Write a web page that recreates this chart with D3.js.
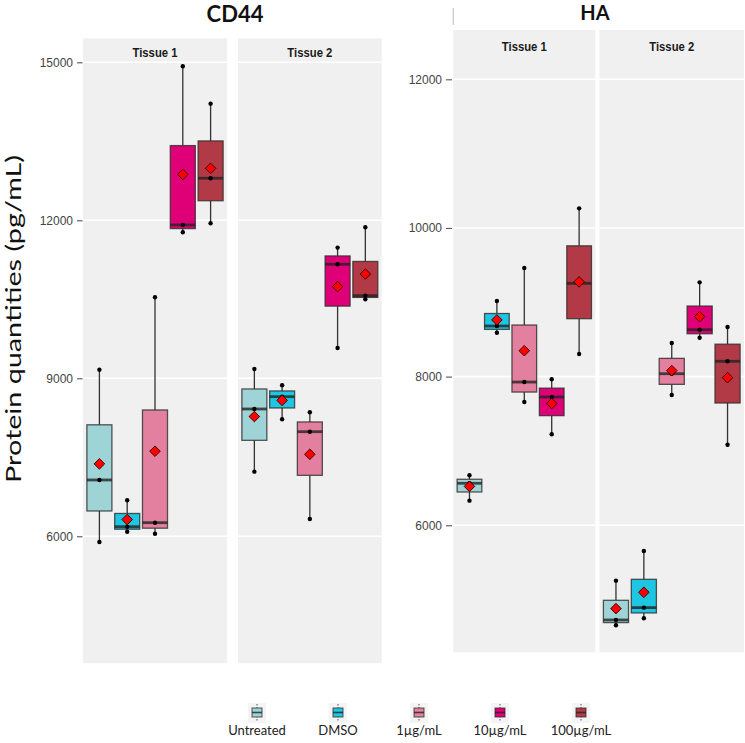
<!DOCTYPE html>
<html><head><meta charset="utf-8">
<script src="https://cdn.jsdelivr.net/npm/d3@7"></script>
<style>body{margin:0;background:#fff}</style>
</head><body><svg id="c" width="745" height="743"></svg>
<script>
// ---- data (three replicate values per group) ----
const groups = ["Untreated", "DMSO", "1µg/mL", "10µg/mL", "100µg/mL"];
const tissues = ["Tissue 1", "Tissue 2"];
const cd44Tissue1 = [[9164, 7069, 5892], [6684, 6182, 6087], [10539, 6258, 6049], [14925, 11912, 11773], [14215, 12799, 11944]];
const cd44Tissue2 = [[9177, 8417, 7227], [8868, 8651, 8222], [8355, 7986, 6329], [11481, 11165, 9576], [11868, 10569, 10501]];
const haTissue1 = [[6673, 6565, 6331], [9017, 8681, 8590], [9461, 7927, 7658], [7964, 7726, 7224], [10264, 9255, 8304]];
const haTissue2 = [[5255, 4726, 4655], [5654, 4892, 4749], [8452, 8039, 7753], [9268, 8631, 8523], [8667, 8206, 7084]];
const cd44Ticks = [6000, 9000, 12000, 15000];
const haTicks = [6000, 8000, 10000, 12000];
const groupColors = ["#9fd4d7", "#1fc6e2", "#e3809f", "#df0078", "#b23a46"];

const svg = d3.select("#c");
const PANEL_BG = "#f0f0f0";

function stats(vals) {
  const s = vals.slice().sort(d3.ascending);
  return { min: s[0], q1: d3.quantile(s, 0.25), med: d3.quantile(s, 0.5),
           q3: d3.quantile(s, 0.75), max: s[s.length - 1], mean: d3.mean(s), pts: s };
}

function drawChart(cfg) {
  const g = svg.append("g");
  const y = d3.scaleLinear().domain(cfg.domain).range([cfg.bottom, cfg.top]);

  // title
  g.append("text").attr("x", cfg.titleX).attr("y", cfg.titleY)
    .attr("text-anchor", "middle").attr("font-family", "Lato, 'Open Sans', sans-serif")
    .attr("font-weight", "bold").attr("font-size", cfg.titleSize).attr("fill", "#111")
    .text(cfg.title);

  cfg.panels.forEach((p, i) => {
    // strip + panel background
    g.append("rect").attr("x", p.x0).attr("y", cfg.stripTop)
      .attr("width", p.x1 - p.x0).attr("height", cfg.bottom - cfg.stripTop).attr("fill", PANEL_BG);
    // gridlines
    g.selectAll(null).data(cfg.ticks).join("line")
      .attr("x1", p.x0).attr("x2", p.x1)
      .attr("y1", d => y(d)).attr("y2", d => y(d))
      .attr("stroke", "#fff").attr("stroke-width", 1.6);
    // strip label
    g.append("text").attr("x", (p.x0 + p.x1) / 2).attr("y", cfg.stripTextY)
      .attr("text-anchor", "middle").attr("font-family", "'Liberation Sans', Arial, sans-serif")
      .attr("font-weight", "bold").attr("font-size", 13.5).attr("fill", "#1a1a1a")
      .attr("textLength", 45).attr("lengthAdjust", "spacingAndGlyphs")
      .text(tissues[i]);

    const x = d3.scaleBand().domain(groups).range([p.x0, p.x1])
      .paddingInner(0.1).paddingOuter(0.14);
    const bw = x.bandwidth();

    p.data.forEach((vals, gi) => {
      const st = stats(vals);
      const x0 = x(groups[gi]);
      const cx = x0 + bw / 2;
      const bg = g.append("g");
      // whiskers
      bg.append("line").attr("x1", cx).attr("x2", cx).attr("y1", y(st.max)).attr("y2", y(st.q3))
        .attr("stroke", "#333").attr("stroke-width", 1.3);
      bg.append("line").attr("x1", cx).attr("x2", cx).attr("y1", y(st.q1)).attr("y2", y(st.min))
        .attr("stroke", "#333").attr("stroke-width", 1.3);
      // box
      bg.append("rect").attr("x", x0).attr("y", y(st.q3)).attr("width", bw)
        .attr("height", Math.max(0.5, y(st.q1) - y(st.q3)))
        .attr("fill", groupColors[gi]).attr("stroke", "rgba(45,45,45,0.8)").attr("stroke-width", 1.3);
      // median
      bg.append("line").attr("x1", x0).attr("x2", x0 + bw).attr("y1", y(st.med)).attr("y2", y(st.med))
        .attr("stroke", "rgba(35,35,35,0.8)").attr("stroke-width", 2.8);
      // points
      bg.selectAll(null).data(st.pts).join("circle")
        .attr("cx", cx).attr("cy", d => y(d)).attr("r", 2.2).attr("fill", "#000");
      // mean diamond
      bg.append("path").attr("d", d3.symbol(d3.symbolSquare, 56)())
        .attr("transform", `translate(${cx},${y(st.mean)}) rotate(45)`)
        .attr("fill", "#ff0000").attr("stroke", "#3a0000").attr("stroke-width", 0.9);
    });
  });

  // y axis
  const ax = g.append("g").attr("transform", `translate(${cfg.axisX},0)`)
    .call(d3.axisLeft(y).tickValues(cfg.ticks).tickSize(cfg.tickSize).tickPadding(4).tickFormat(d3.format("d")));
  ax.select(".domain").remove();
  ax.selectAll(".tick line").attr("stroke", "#555").attr("stroke-width", 1.1);
  ax.selectAll(".tick text").attr("font-family", "'Liberation Sans', Arial, sans-serif")
    .attr("font-size", 12).attr("fill", "#444");
}

// CD44 chart
drawChart({
  title: "CD44", titleX: 235, titleY: 22, titleSize: 22,
  domain: [3588, 15000], bottom: 663.3, top: 62.3,
  stripTop: 38.3, stripTextY: 57.3, ticks: cd44Ticks,
  axisX: 82.5, tickSize: 5.5,
  panels: [
    { x0: 83, x1: 227, data: cd44Tissue1 },
    { x0: 238, x1: 381.7, data: cd44Tissue2 }
  ]
});

// HA chart
drawChart({
  title: "HA", titleX: 595, titleY: 19.8, titleSize: 20,
  domain: [4291, 12327], bottom: 652.3, top: 55,
  stripTop: 30, stripTextY: 50.5, ticks: haTicks,
  axisX: 452, tickSize: 6,
  panels: [
    { x0: 453.3, x1: 595.3, data: haTissue1 },
    { x0: 599.5, x1: 744, data: haTissue2 }
  ]
});

// small separator line above HA panel
svg.append("line").attr("x1", 453.3).attr("x2", 453.3).attr("y1", 8).attr("y2", 25)
  .attr("stroke", "#c8c8c8").attr("stroke-width", 1.2);

// y axis title
svg.append("text").attr("transform", "translate(20.5,319) rotate(-90)")
  .attr("text-anchor", "middle").attr("font-family", "Lato, 'Open Sans', sans-serif")
  .attr("font-size", 21).attr("fill", "#111")
  .attr("textLength", 328).attr("lengthAdjust", "spacingAndGlyphs")
  .text("Protein quantities (pg/mL)");

// legend
const lx = d3.scalePoint().domain(groups).range([257, 581]);
const leg = svg.append("g");
groups.forEach((gname, i) => {
  const cx = lx(gname);
  const it = leg.append("g").attr("transform", `translate(${cx},0)`);
  it.append("rect").attr("x", -9).attr("y", 703).attr("width", 18).attr("height", 20).attr("fill", "#f4f4f4");
  it.append("line").attr("x1", 0).attr("x2", 0).attr("y1", 704).attr("y2", 722)
    .attr("stroke", "#555").attr("stroke-width", 1).attr("stroke-dasharray", "1.5,1.5");
  it.append("rect").attr("x", -5).attr("y", 708).attr("width", 10).attr("height", 9)
    .attr("fill", groupColors[i]).attr("stroke", "rgba(45,45,45,0.8)").attr("stroke-width", 1);
  it.append("line").attr("x1", -5).attr("x2", 5).attr("y1", 712.5).attr("y2", 712.5)
    .attr("stroke", "rgba(35,35,35,0.8)").attr("stroke-width", 1.6);
  it.append("text").attr("x", 0).attr("y", 735).attr("text-anchor", "middle")
    .attr("font-family", "Lato, 'Open Sans', sans-serif").attr("font-size", 13).attr("fill", "#222")
    .text(gname);
});
</script></body></html>
